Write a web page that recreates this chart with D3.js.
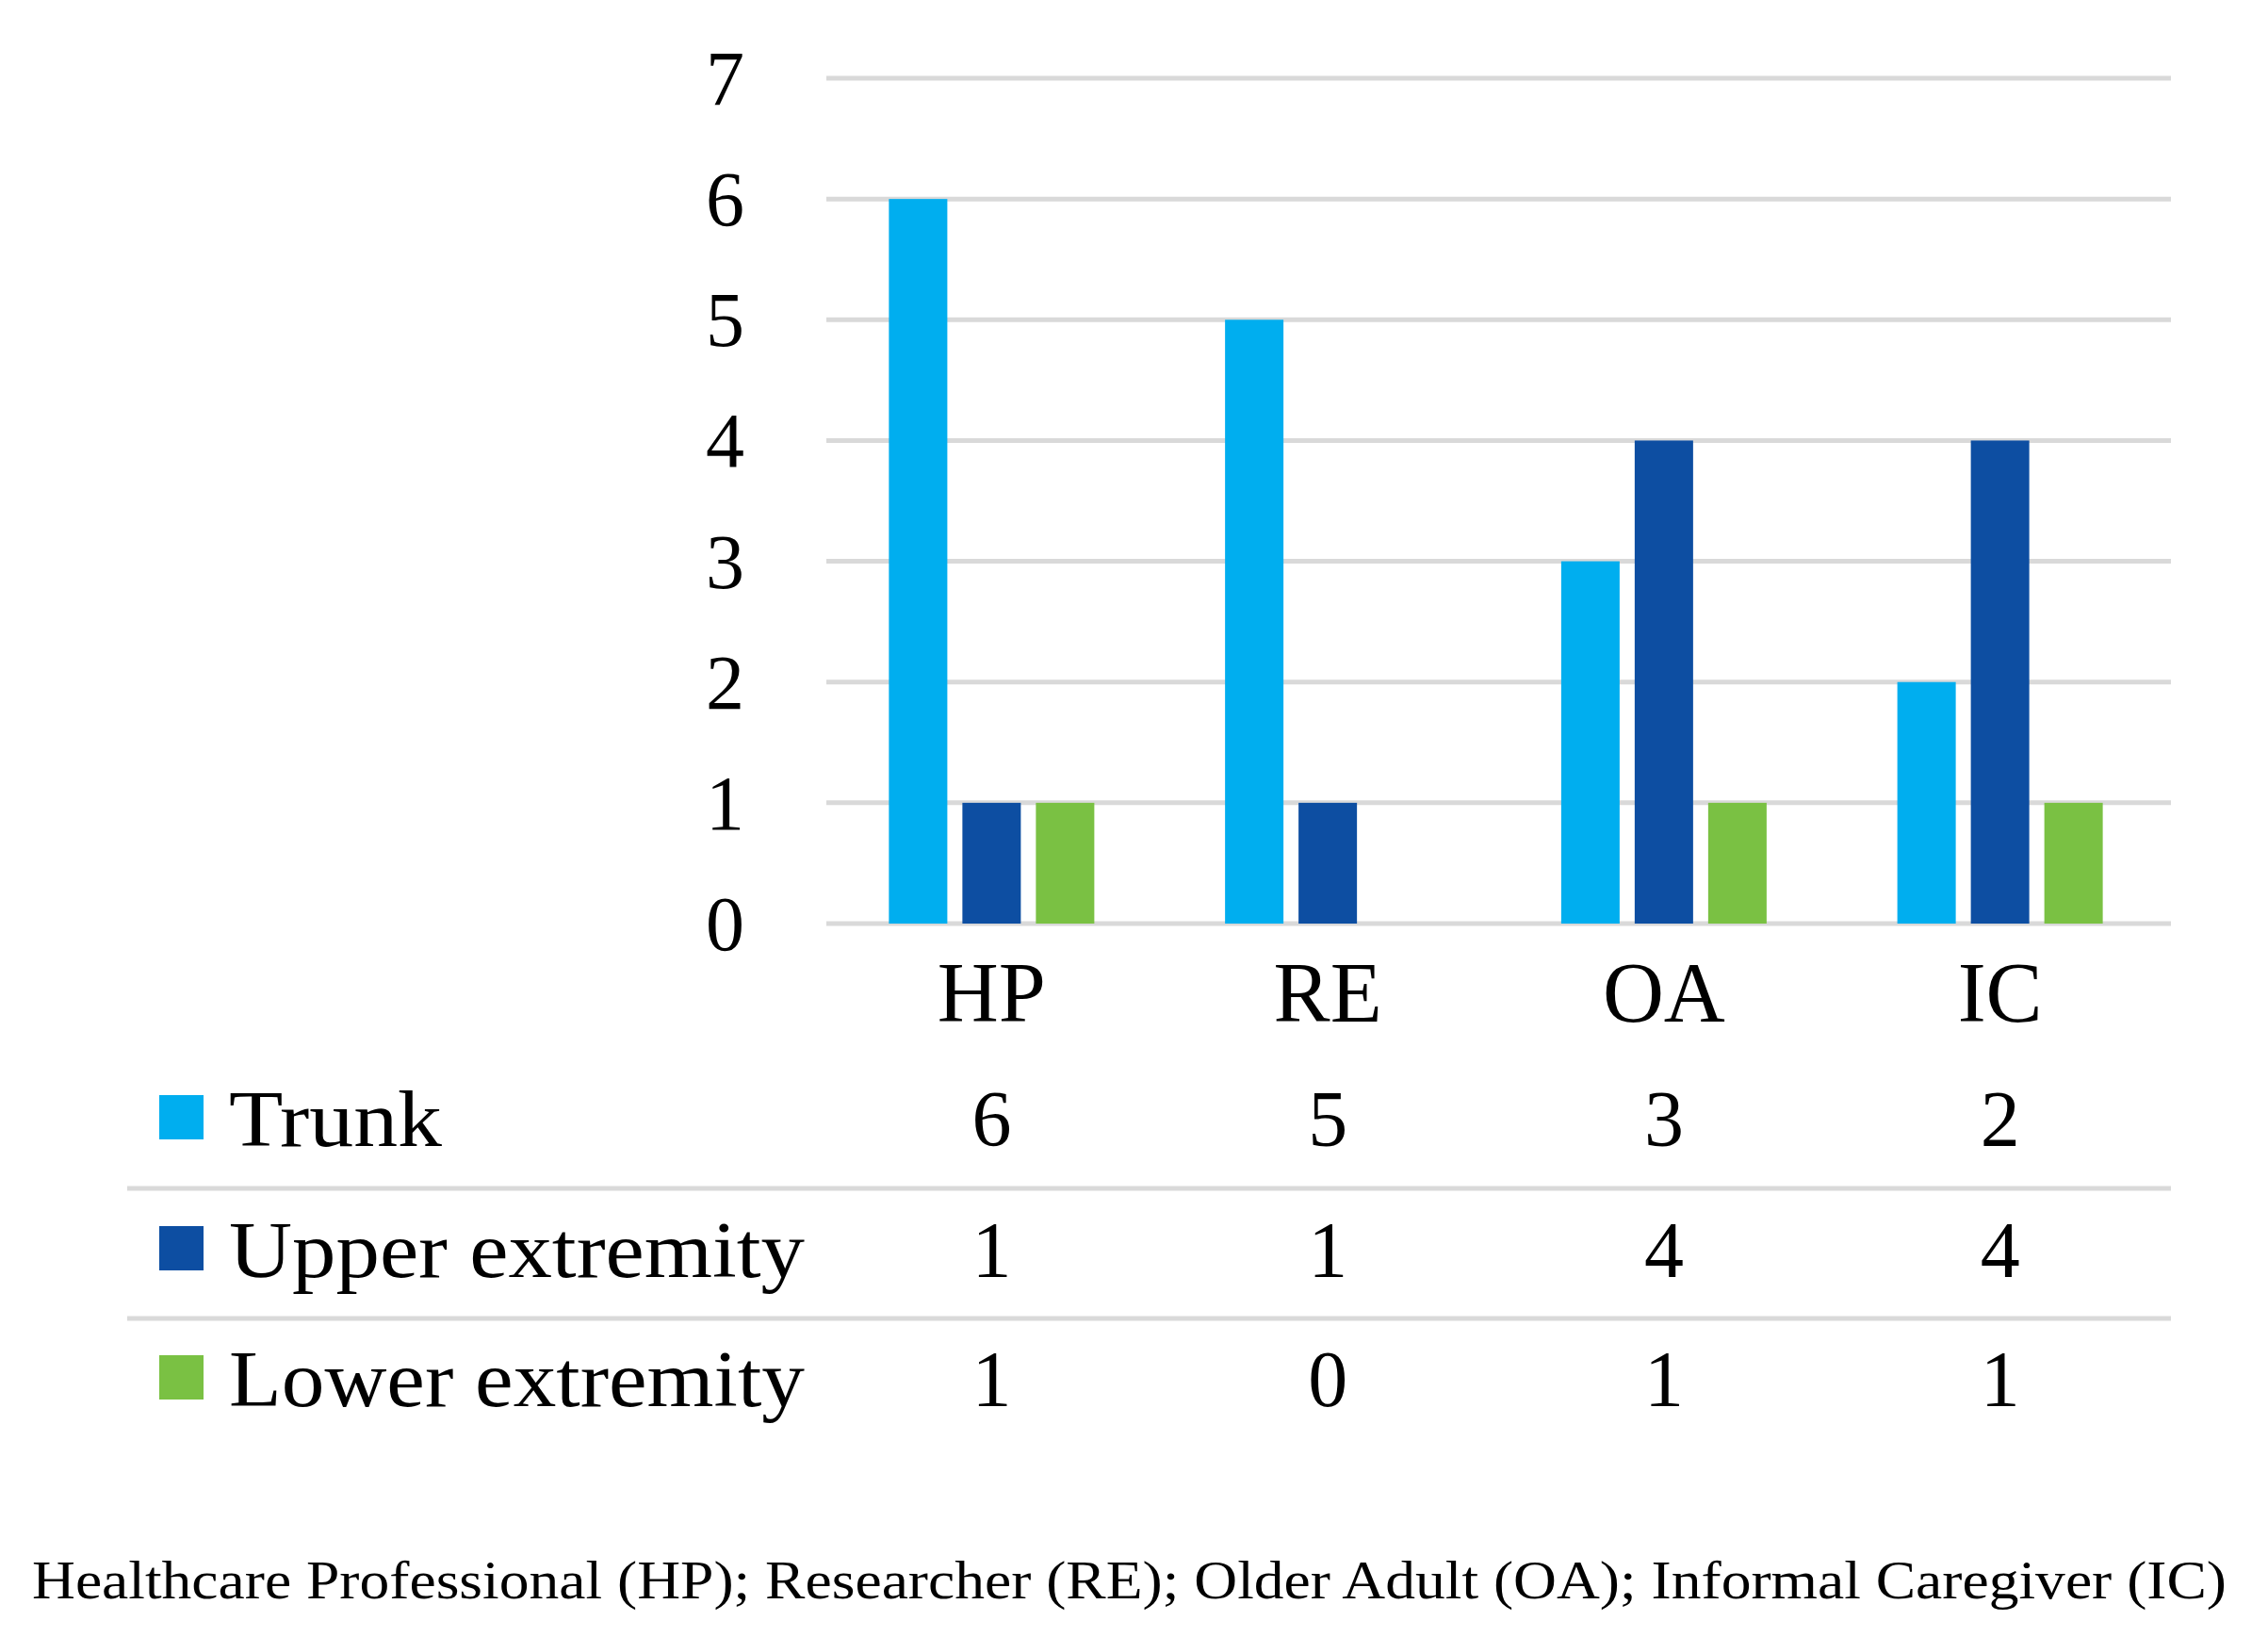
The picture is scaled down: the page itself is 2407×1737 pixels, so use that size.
<!DOCTYPE html>
<html><head><meta charset="utf-8">
<script src="https://cdn.jsdelivr.net/npm/d3@7"></script>
<style>html,body{margin:0;padding:0;background:#fff;}svg{display:block;}</style>
</head><body>
<svg id="chart" width="2407" height="1737"></svg>
<script>
const categories = ["HP", "RE", "OA", "IC"];
const seriesNames = ["Trunk", "Upper extremity", "Lower extremity"];
const trunk = [6, 5, 3, 2];
const upperExtremity = [1, 1, 4, 4];
const lowerExtremity = [1, 0, 1, 1];
const yTicks = [0, 1, 2, 3, 4, 5, 6, 7];
const footnote = "Healthcare Professional (HP); Researcher (RE); Older Adult (OA); Informal Caregiver (IC)";

const seriesValues = [trunk, upperExtremity, lowerExtremity];
const colors = ["#00AEEF", "#0D4EA2", "#7AC143"];
const font = "'Liberation Serif', 'DejaVu Serif', serif";

const svg = d3.select("#chart");
const plotLeft = 877, plotRight = 2304, plotTop = 83, plotBottom = 980;

const x = d3.scaleBand().domain(categories).range([plotLeft, plotRight]);
const y = d3.scaleLinear().domain([0, 7]).range([plotBottom, plotTop]);
const barW = 62, gap = 16;
const groupW = 3 * barW + 2 * gap;
const xs = d3.scaleBand().domain(d3.range(3)).range([0, groupW]).paddingInner(gap / (barW + gap));
const cx = c => x(c) + x.bandwidth() / 2;

// gridlines
svg.append("g").selectAll("line").data(yTicks).join("line")
  .attr("x1", plotLeft).attr("x2", plotRight)
  .attr("y1", d => y(d)).attr("y2", d => y(d))
  .attr("stroke", "#D9D9D9").attr("stroke-width", 5);

// y labels
svg.append("g").selectAll("text").data(yTicks).join("text")
  .attr("x", 790).attr("y", d => y(d) + 28)
  .attr("text-anchor", "end")
  .attr("font-family", font).attr("font-size", 82).attr("fill", "#000")
  .text(d => d);

// bars
seriesValues.forEach((vals, si) => {
  svg.append("g").selectAll("rect").data(vals).join("rect")
    .attr("x", (d, i) => cx(categories[i]) - 3 - groupW / 2 + xs(si))
    .attr("width", xs.bandwidth())
    .attr("y", d => y(d))
    .attr("height", d => y(0) - y(d))
    .attr("fill", colors[si]);
});

// category labels
svg.append("g").selectAll("text").data(categories).join("text")
  .attr("x", d => cx(d) - 3).attr("y", 1084)
  .attr("text-anchor", "middle")
  .attr("font-family", font).attr("font-size", 90).attr("fill", "#000")
  .text(d => d);

// data table
const rowBaselines = [1216, 1355, 1492];
const labelLengths = [226, 611, 611];
const sepY = [1261, 1399];
svg.append("g").selectAll("line").data(sepY).join("line")
  .attr("x1", 135).attr("x2", plotRight)
  .attr("y1", d => d).attr("y2", d => d)
  .attr("stroke", "#D9D9D9").attr("stroke-width", 5);

seriesNames.forEach((name, si) => {
  const by = rowBaselines[si];
  svg.append("rect").attr("x", 169).attr("y", by - 54).attr("width", 47).attr("height", 47).attr("fill", colors[si]);
  svg.append("text").attr("x", 243).attr("y", by)
    .attr("font-family", font).attr("font-size", 84).attr("fill", "#000")
    .attr("textLength", labelLengths[si]).attr("lengthAdjust", "spacingAndGlyphs")
    .text(name);
  svg.append("g").selectAll("text").data(seriesValues[si]).join("text")
    .attr("x", (d, i) => cx(categories[i]) - 3).attr("y", by)
    .attr("text-anchor", "middle")
    .attr("font-family", font).attr("font-size", 84).attr("fill", "#000")
    .text(d => d);
});

// footnote
svg.append("text").attr("x", 34).attr("y", 1696)
  .attr("font-family", font).attr("font-size", 56).attr("fill", "#000")
  .attr("textLength", 2329).attr("lengthAdjust", "spacingAndGlyphs")
  .text(footnote);
</script>
</body></html>
